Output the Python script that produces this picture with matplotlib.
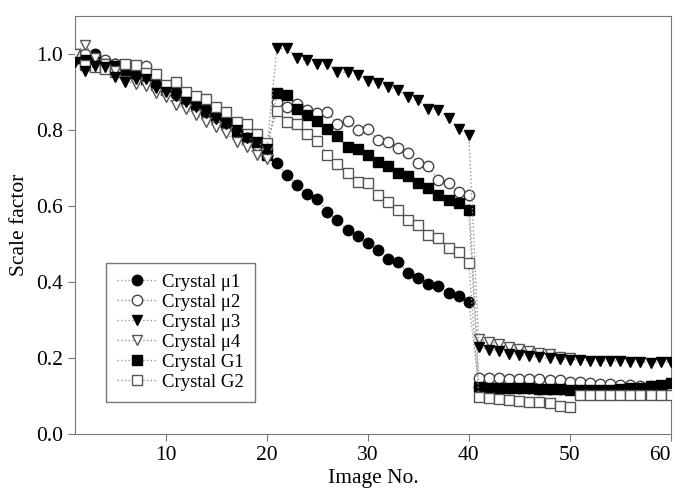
#画图: scale factor vs image number for the six crystals
import numpy as np
import matplotlib.pyplot as plt

plt.rcParams['font.family'] = ['Liberation Serif', 'DejaVu Serif']

image_no = list(range(1, 61))

mu1 = [0.99, 0.99, 1.00, 0.98, 0.975, 0.96, 0.95, 0.94, 0.92, 0.905,
       0.895, 0.875, 0.86, 0.845, 0.83, 0.81, 0.80, 0.78, 0.76, 0.735,
       0.713, 0.682, 0.655, 0.632, 0.62, 0.585, 0.563, 0.537, 0.521, 0.504,
       0.484, 0.46, 0.453, 0.423, 0.412, 0.396, 0.389, 0.372, 0.363, 0.348,
       0.125, 0.122, 0.121, 0.12, 0.12, 0.12, 0.119, 0.119, 0.118, 0.118,
       0.118, 0.118, 0.118, 0.118, 0.119, 0.12, 0.122, 0.125, 0.127, 0.13]
mu2 = [0.99, 1.0, 0.99, 0.985, 0.975, 0.965, 0.96, 0.968, 0.93, 0.91,
       0.90, 0.88, 0.862, 0.85, 0.83, 0.82, 0.80, 0.78, 0.762, 0.75,
       0.874, 0.861, 0.868, 0.853, 0.846, 0.848, 0.817, 0.823, 0.80, 0.802,
       0.775, 0.768, 0.752, 0.739, 0.714, 0.705, 0.668, 0.66, 0.636, 0.629,
       0.148, 0.147, 0.147, 0.146, 0.146, 0.145, 0.144, 0.143, 0.141, 0.138,
       0.136, 0.134, 0.132, 0.131, 0.129, 0.128, 0.127, 0.127, 0.127, 0.127]
mu3 = [0.98, 0.955, 0.97, 0.965, 0.94, 0.928, 0.935, 0.935, 0.91, 0.90,
       0.89, 0.875, 0.86, 0.845, 0.83, 0.815, 0.80, 0.78, 0.77, 0.75,
       1.015, 1.015, 0.989, 0.984, 0.974, 0.974, 0.953, 0.952, 0.945, 0.93,
       0.923, 0.914, 0.907, 0.886, 0.879, 0.857, 0.853, 0.831, 0.804, 0.787,
       0.23, 0.221, 0.219, 0.212, 0.208, 0.205, 0.202, 0.2, 0.198, 0.196,
       0.195, 0.193, 0.193, 0.192, 0.192, 0.19, 0.189, 0.188, 0.189, 0.19]
mu4 = [1.0, 1.025, 0.99, 0.975, 0.955, 0.93, 0.921, 0.915, 0.899, 0.887,
       0.867, 0.855, 0.84, 0.822, 0.808, 0.793, 0.769, 0.755, 0.735, 0.725,
       np.nan, np.nan, np.nan, np.nan, np.nan, np.nan, np.nan, np.nan, np.nan, np.nan,
       np.nan, np.nan, np.nan, np.nan, np.nan, np.nan, np.nan, np.nan, np.nan, np.nan,
       0.249, 0.243, 0.237, 0.23, 0.223, 0.219, 0.214, 0.211, 0.204, 0.199,
       np.nan, np.nan, np.nan, np.nan, np.nan, np.nan, np.nan, np.nan, np.nan, np.nan]
g1 = [0.99, 0.985, 0.98, 0.975, 0.97, 0.955, 0.945, 0.935, 0.92, 0.905,
      0.905, 0.883, 0.87, 0.853, 0.839, 0.822, 0.796, 0.778, 0.769, 0.734,
      0.897, 0.892, 0.857, 0.839, 0.825, 0.802, 0.784, 0.756, 0.75, 0.735,
      0.717, 0.705, 0.686, 0.679, 0.66, 0.647, 0.629, 0.616, 0.607, 0.589,
      0.125, 0.122, 0.12, 0.12, 0.12, 0.12, 0.119, 0.118, 0.118, 0.117,
      0.117, 0.117, 0.117, 0.117, 0.118, 0.12, 0.122, 0.127, 0.13, 0.135]
g2 = [1.0, 0.971, 0.966, 0.962, 0.953, 0.975, 0.971, 0.95, 0.947, 0.92,
      0.927, 0.901, 0.889, 0.881, 0.861, 0.848, 0.822, 0.816, 0.791, 0.767,
      0.851, 0.822, 0.816, 0.789, 0.772, 0.734, 0.712, 0.688, 0.664, 0.66,
      0.629, 0.611, 0.589, 0.563, 0.55, 0.524, 0.515, 0.491, 0.48, 0.449,
      0.098, 0.096, 0.093, 0.089, 0.087, 0.085, 0.084, 0.081, 0.074, 0.072,
      0.103, 0.103, 0.103, 0.103, 0.103, 0.103, 0.103, 0.103, 0.103, 0.103]

labels = ['Crystal \u03bc1', 'Crystal \u03bc2', 'Crystal \u03bc3',
          'Crystal \u03bc4', 'Crystal G1', 'Crystal G2']
markers = ['o', 'o', 'v', 'v', 's', 's']
fills = ['black', 'white', 'black', 'white', 'black', 'white']
edges = ['black', '#444444', 'black', '#555555', 'black', '#555555']
zorders = [3, 3, 5, 4, 3, 3]

fig = plt.figure(figsize=(6.81, 4.91), dpi=100)
ax = fig.add_axes([0.110, 0.116, 0.875, 0.851])

for ys, lab, m, fc, ec, z in zip([mu1, mu2, mu3, mu4, g1, g2], labels, markers, fills, edges, zorders):
    ax.plot(image_no, ys, linestyle=':', color='#999999', linewidth=1.0,
            marker=m, markersize=7.5, markerfacecolor=fc, markeredgecolor=ec,
            markeredgewidth=1.0, label=lab, zorder=z)

ax.set_xlim(1, 60)
ax.set_ylim(0, 1.1)
ax.set_xticks([10, 20, 30, 40, 50, 60])
ax.set_yticks([0.0, 0.2, 0.4, 0.6, 0.8, 1.0])
ax.set_yticklabels(['0.0', '0.2', '0.4', '0.6', '0.8', '1.0'])
ax.tick_params(labelsize=15.5, direction='out', length=5, color='#777777')
for sp in ax.spines.values():
    sp.set_color('#777777')
# keep the right-most tick label inside the canvas
ax.get_xticklabels()[-1].set_horizontalalignment('right')
ax.set_xlabel('Image No.', fontsize=15.5, labelpad=3)
ax.set_ylabel('Scale factor', fontsize=15.5, labelpad=5)

leg = ax.legend(loc='lower left', bbox_to_anchor=(0.052, 0.077), borderaxespad=0,
                fontsize=13.5, labelspacing=0.15, handlelength=2.1, handletextpad=0.3,
                fancybox=False, edgecolor='#777777', framealpha=1, borderpad=0.6)
leg.get_frame().set_linewidth(1.0)

plt.savefig('out.png')
plt.close()
